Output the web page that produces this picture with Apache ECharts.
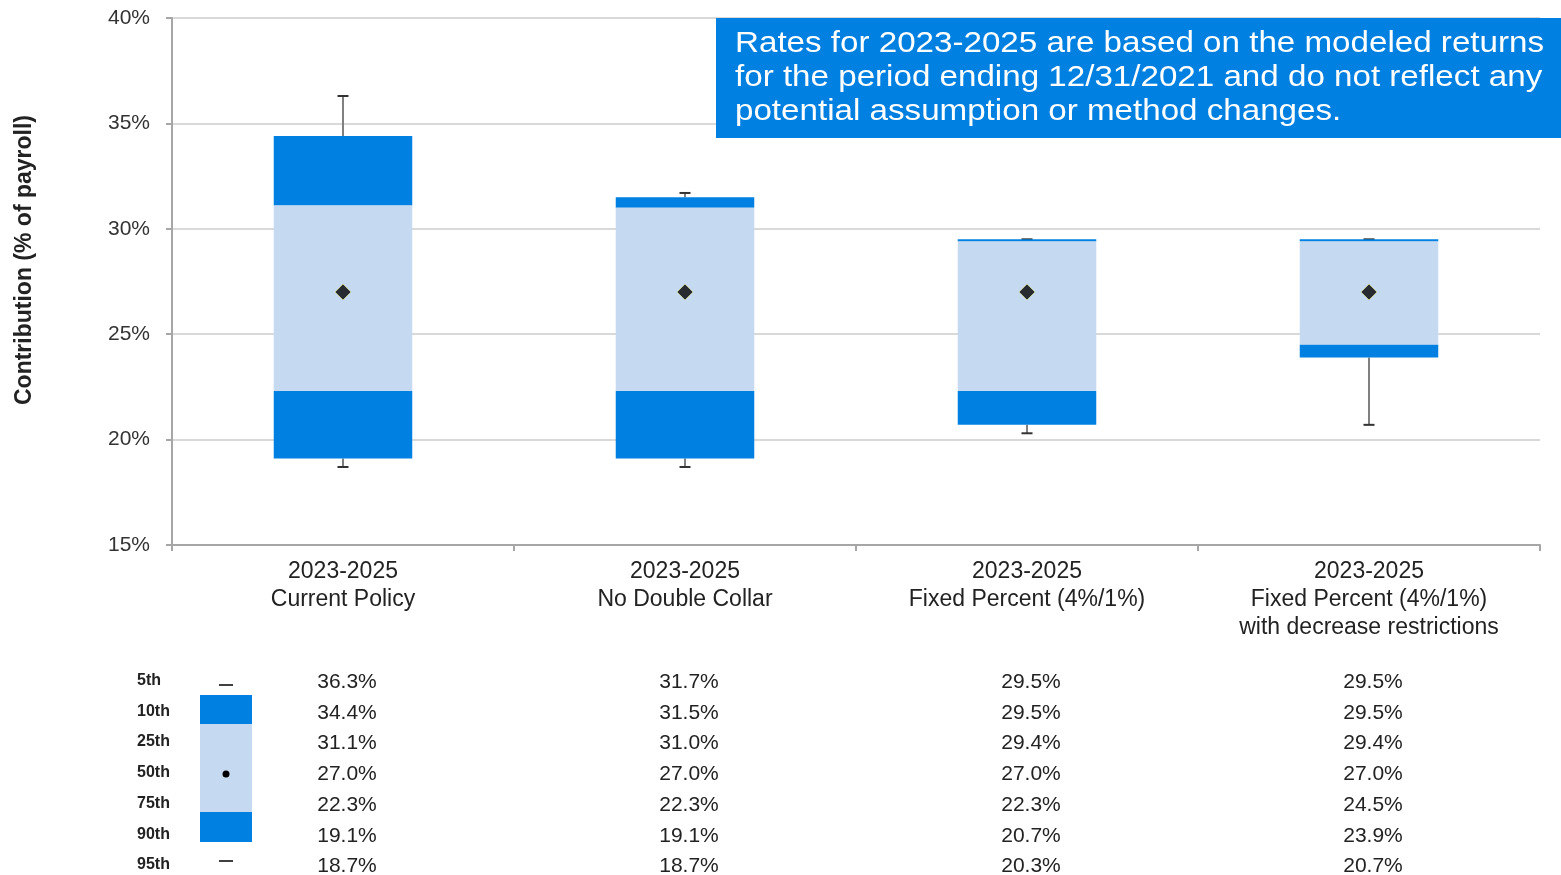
<!DOCTYPE html>
<html><head><meta charset="utf-8">
<script src="https://cdn.jsdelivr.net/npm/echarts@6/dist/echarts.min.js"></script>
<style>html,body{margin:0;padding:0;background:#fff}#c{width:1561px;height:875px}</style>
</head><body><div id="c"></div>
<script>
const categories = ['2023-2025\nCurrent Policy', '2023-2025\nNo Double Collar', '2023-2025\nFixed Percent (4%/1%)', '2023-2025\nFixed Percent (4%/1%)\nwith decrease restrictions'];
const pctLabels = ['5th', '10th', '25th', '50th', '75th', '90th', '95th'];
const p5  = [36.3, 31.7, 29.5, 29.5];
const p10 = [34.4, 31.5, 29.5, 29.5];
const p25 = [31.1, 31.0, 29.4, 29.4];
const p50 = [27.0, 27.0, 27.0, 27.0];
const p75 = [22.3, 22.3, 22.3, 24.5];
const p90 = [19.1, 19.1, 20.7, 23.9];
const p95 = [18.7, 18.7, 20.3, 20.7];
const yTicks = [15, 20, 25, 30, 35, 40];
const yTitle = 'Contribution (% of payroll)';
const noteText = 'Rates for 2023-2025 are based on the modeled returns\nfor the period ending 12/31/2021 and do not reflect any\npotential assumption or method changes.';

const DARK = '#0080E0', LIGHT = '#C5D9F1';
const FONT = '"Liberation Sans", Arial, sans-serif';

const boxData = categories.map((c, i) => [i, p5[i], p10[i], p25[i], p50[i], p75[i], p90[i], p95[i]]);

const chart = echarts.init(document.getElementById('c'), null, {renderer: 'canvas'});

function renderBox(params, api) {
  const i = api.value(0);
  const w = api.size([1, 0])[0] * 0.405;
  const x = api.coord([i, api.value(1)])[0];
  const y = v => api.coord([i, v])[1];
  const y5 = y(api.value(1)), y10 = y(api.value(2)), y25 = y(api.value(3));
  const y75 = y(api.value(5)), y90 = y(api.value(6)), y95 = y(api.value(7));
  const capW = 11;
  return {
    type: 'group',
    children: [
      {type: 'line', shape: {x1: x, y1: y5, x2: x, y2: y10}, style: {stroke: '#808080', lineWidth: 2}},
      {type: 'line', shape: {x1: x, y1: y90, x2: x, y2: y95}, style: {stroke: '#808080', lineWidth: 2}},
      {type: 'line', shape: {x1: x - capW / 2, y1: y5, x2: x + capW / 2, y2: y5}, style: {stroke: '#333', lineWidth: 2}},
      {type: 'line', shape: {x1: x - capW / 2, y1: y95, x2: x + capW / 2, y2: y95}, style: {stroke: '#333', lineWidth: 2}},
      {type: 'rect', shape: {x: x - w / 2, y: y10, width: w, height: Math.max(y25 - y10, 1.5)}, style: {fill: DARK}},
      {type: 'rect', shape: {x: x - w / 2, y: y25, width: w, height: y75 - y25}, style: {fill: LIGHT}},
      {type: 'rect', shape: {x: x - w / 2, y: y75, width: w, height: y90 - y75}, style: {fill: DARK}}
    ]
  };
}

const option = {
  animation: false,
  backgroundColor: '#fff',
  textStyle: {fontFamily: FONT},
  grid: {left: 172, right: 21, top: 18, bottom: 330},
  xAxis: {
    type: 'category',
    data: categories,
    boundaryGap: true,
    axisLine: {lineStyle: {color: '#A6A6A6', width: 2}},
    axisTick: {show: true, length: 6, lineStyle: {color: '#A6A6A6', width: 2}},
    axisLabel: {color: '#222', fontSize: 23, lineHeight: 28, margin: 13, fontFamily: FONT, interval: 0}
  },
  yAxis: {
    type: 'value',
    min: 15, max: 40, interval: 5,
    axisLine: {show: true, lineStyle: {color: '#A6A6A6', width: 2}},
    axisTick: {show: true, length: 6, lineStyle: {color: '#A6A6A6', width: 2}},
    axisLabel: {color: '#333', fontSize: 21, margin: 22, fontFamily: FONT, formatter: v => yTicks.includes(v) ? v + '%' : ''},
    splitLine: {lineStyle: {color: '#D9D9D9', width: 2}}
  },
  series: [
    {type: 'custom', renderItem: renderBox, data: boxData, encode: {x: 0, y: [1, 7]}, z: 2},
    {type: 'scatter', data: categories.map((c, i) => [i, p50[i]]), symbol: 'diamond', symbolSize: 16,
     itemStyle: {color: '#000', borderColor: '#D6DFA0', borderWidth: 1}, z: 5}
  ]
};
chart.setOption(option);

// Build table + legend + note + y title
const rows = [p5, p10, p25, p50, p75, p90, p95];
const rowY = [681, 712, 742, 773, 804, 835, 865];
const graphics = [];
graphics.push({type: 'text', x: 25, y: 260, rotation: Math.PI / 2,
  style: {text: yTitle, fill: '#222', font: 'bold 23px ' + FONT, align: 'center', verticalAlign: 'middle'}});
graphics.push({type: 'rect', shape: {x: 716, y: 18, width: 845, height: 120}, style: {fill: DARK}, z: 10});
graphics.push({type: 'text', x: 735, y: 27, scaleX: 1.105, originX: 0,
  style: {text: noteText, fill: '#fff', font: '30px ' + FONT, lineHeight: 34}, z: 11});
pctLabels.forEach((lab, r) => {
  graphics.push({type: 'text', x: 137, y: rowY[r], style: {text: lab, fill: '#222', font: 'bold 16px ' + FONT, verticalAlign: 'middle'}});
  categories.forEach((c, i) => {
    const px = chart.convertToPixel({xAxisIndex: 0}, i) + 4;
    graphics.push({type: 'text', x: px, y: rowY[r] + 1, style: {text: rows[r][i].toFixed(1) + '%', fill: '#222', font: '21px ' + FONT, align: 'center', verticalAlign: 'middle'}});
  });
});
// legend icon
graphics.push({type: 'rect', shape: {x: 200, y: 695, width: 52, height: 29}, style: {fill: DARK}});
graphics.push({type: 'rect', shape: {x: 200, y: 724, width: 52, height: 88}, style: {fill: LIGHT}});
graphics.push({type: 'rect', shape: {x: 200, y: 812, width: 52, height: 30}, style: {fill: DARK}});
graphics.push({type: 'circle', shape: {cx: 226, cy: 774, r: 3.5}, style: {fill: '#000'}});
graphics.push({type: 'line', shape: {x1: 219, y1: 685, x2: 233, y2: 685}, style: {stroke: '#000', lineWidth: 1.5}});
graphics.push({type: 'line', shape: {x1: 219, y1: 861, x2: 233, y2: 861}, style: {stroke: '#000', lineWidth: 1.5}});
chart.setOption({graphic: graphics});
</script>
</body></html>
